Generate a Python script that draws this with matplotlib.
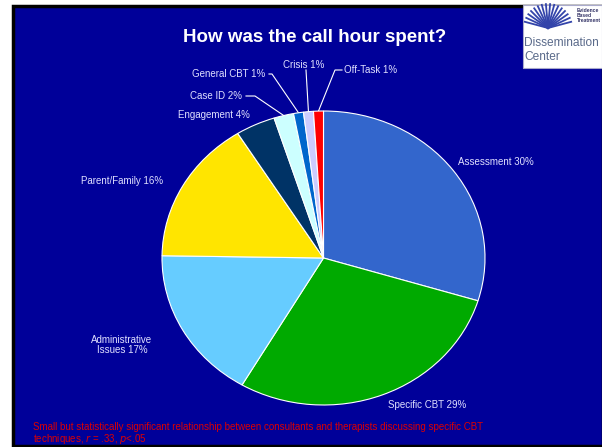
import numpy as np
import matplotlib
matplotlib.use("Agg")
import matplotlib.pyplot as plt
from matplotlib.patches import Rectangle

categories = ["Assessment", "Specific CBT", "Administrative\nIssues", "Parent/Family",
              "Engagement", "Case ID", "General CBT", "Crisis", "Off-Task"]
values = [30, 29, 17, 16, 4, 2, 1, 1, 1]
colors = ["#3366CC", "#00AA00", "#66CCFF", "#FFE500", "#003366",
          "#CCFFFF", "#0066CC", "#CCCCFF", "#FF0000"]
title = "How was the call hour spent?"
note = ("Small but statistically significant relationship between consultants and therapists discussing specific CBT\n"
        "techniques, $r$ = .33, $p$<.05")

W, H = 602, 447
plt.rcParams["font.family"] = ["Liberation Sans", "DejaVu Sans"]
fig = plt.figure(figsize=(W / 100, H / 100), dpi=100, facecolor="white")


def fx(x):
    return x / W


def fy(y):
    return 1 - y / H


# slide background
bg = fig.add_axes([0, 0, 1, 1])
bg.set_xlim(0, W)
bg.set_ylim(H, 0)
bg.axis("off")
bg.add_patch(Rectangle((13, 6), W - 12, H - 7, facecolor="#000099", edgecolor="black", lw=2.5))

# logo
bg.add_patch(Rectangle((523, 5), 79, 63, facecolor="white", edgecolor="#AAAACC", lw=0.8))
for a in np.linspace(195, 345, 16):
    t = np.radians(a)
    bg.plot([548, 548 + 24 * np.cos(t)], [28, 28 + 24 * np.sin(t)], color="#3344AA", lw=1.3)
bg.text(577, 8, "Evidence\nBased\nTreatment", fontsize=3.6, fontweight="bold", color="#333366",
        va="top", ha="left", linespacing=1.0)
bg.text(524, 43, "Dissemination", fontsize=8.6, color="#5A6A8A", va="center", ha="left")
bg.text(524, 57, "Center", fontsize=8.6, color="#5A6A8A", va="center", ha="left")

bg.text(315, 37, title, fontsize=13.5, fontweight="bold", color="white", ha="center", va="center")
bg.text(33, 422, note, fontsize=7, color="#DD0000", ha="left", va="top", linespacing=1.05)

# pie
left, right, top, bottom = 162, 485, 111, 405
ax = fig.add_axes([fx(left), fy(bottom), fx(right - left), (bottom - top) / H])
wedges, _ = ax.pie(values, colors=colors, startangle=90, counterclock=False,
                   wedgeprops=dict(edgecolor="white", linewidth=0.8))
ax.set_xlim(-1, 1)
ax.set_ylim(-1, 1)
ax.set_aspect("auto")
ax.axis("off")

rx = (right - left) / 2
ry = (bottom - top) / 2
cx, cy = left + rx, top + ry


def edge_point(w, r=1.0):
    t = np.radians((w.theta1 + w.theta2) / 2)
    return cx + r * rx * np.cos(t), cy - r * ry * np.sin(t)


lab_color = "#E0E0FF"
fs = 7
labels = [f"{c} {v}%" for c, v in zip(categories, values)]
# plain labels
plain = {0: (458, 162, "left"), 1: (388, 405, "left"), 2: (122, 345, "center"),
         3: (122, 181, "center"), 4: (178, 115, "left")}
for i, (x, y, ha) in plain.items():
    bg.text(x, y, labels[i], fontsize=fs, color=lab_color, ha=ha, va="center",
            multialignment="center", linespacing=1.1)

# labels with leader lines
lead = {5: (190, 96, 246, 255), 6: (192, 74, 269, 272), 7: (283, 65, None, 306),
        8: (344, 70, 342, 335)}
for i, (x, y, xe, xk) in lead.items():
    px, py = edge_point(wedges[i], 1.0)
    bg.text(x, y, labels[i], fontsize=fs, color=lab_color, ha="left", va="center")
    if i == 7:
        bg.plot([xk, px], [y + 5, py], color="white", lw=0.8)
    else:
        bg.plot([xe, xk, px], [y, y, py], color="white", lw=0.8)

fig.savefig("out.png", dpi=100, facecolor="white")
